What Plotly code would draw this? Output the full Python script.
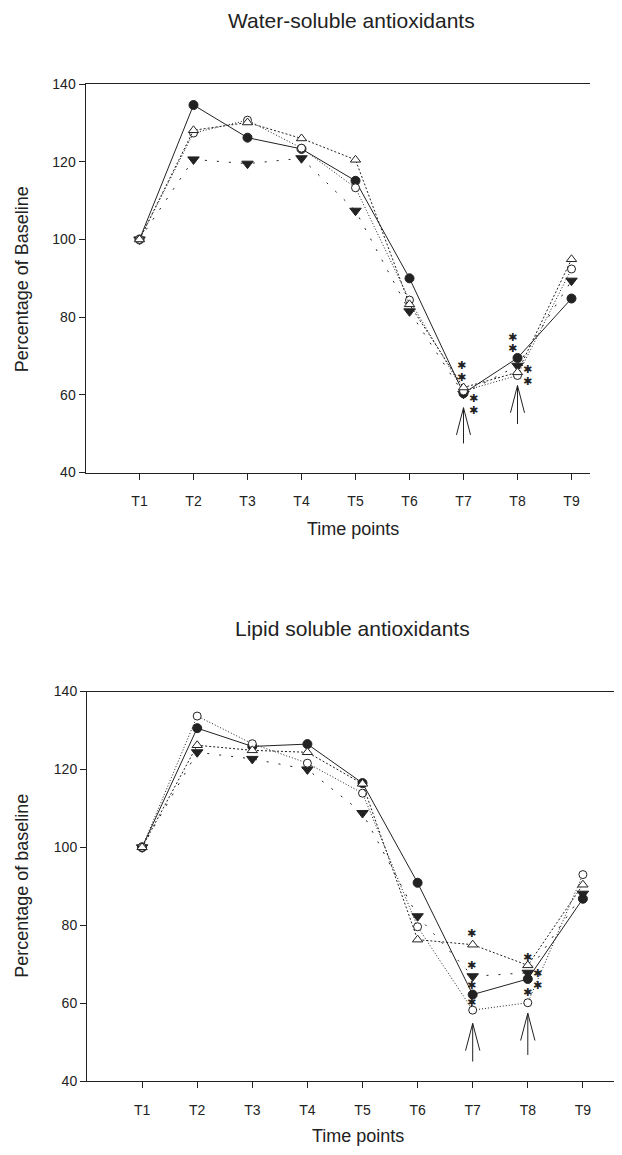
import plotly.graph_objects as go

# ---------------- data ----------------
time_labels = ["T1", "T2", "T3", "T4", "T5", "T6", "T7", "T8", "T9"]
x_pos = list(range(1, len(time_labels) + 1))

# Water-soluble antioxidants (top panel)
ws_filled_circle = [100, 134.6, 126.2, 123.3, 115.1, 90.0, 60.4, 69.5, 84.8]
ws_open_circle   = [100, 127.4, 130.7, 123.5, 113.3, 84.4, 61.0, 65.0, 92.4]
ws_open_triangle = [100, 128.1, 130.1, 126.0, 120.5, 83.3, 61.9, 65.8, 94.9]
ws_filled_tri_dn = [100, 120.6, 119.5, 120.9, 107.4, 81.5, 60.3, 67.5, 89.4]

# Lipid soluble antioxidants (bottom panel)
ls_filled_circle = [100, 130.6, 125.9, 126.5, 116.5, 90.9, 62.2, 66.2, 86.8]
ls_open_circle   = [100, 133.7, 126.6, 121.6, 113.9, 79.6, 58.2, 60.1, 93.0]
ls_open_triangle = [100, 126.2, 124.9, 124.4, 116.3, 76.3, 75.0, 69.7, 90.4]
ls_filled_tri_dn = [100, 124.4, 122.7, 120.0, 108.8, 82.3, 66.9, 67.8, 88.1]

# significance asterisks (x position, value)
ws_sig_x = [6.97, 6.97, 7.18, 7.18, 7.90, 7.90, 8.19, 8.19]
ws_sig_y = [67.5, 64.5, 59.1, 56.1, 74.8, 71.9, 66.5, 63.4]
ls_sig_x = [6.98, 6.98, 6.98, 6.98, 7.99, 8.17, 8.17, 7.99]
ls_sig_y = [77.9, 69.7, 64.6, 60.1, 71.6, 67.6, 64.6, 62.8]

# arrows (time point, tip value, tail value)
ws_arrow_t = [7, 8]
ws_arrow_tip = [56.7, 62.4]
ws_arrow_tail = [47.5, 52.5]
ls_arrow_t = [7, 8]
ls_arrow_tip = [54.8, 57.4]
ls_arrow_tail = [45.0, 46.7]

# ---------------- figure ----------------
W, H = 622, 1155
OX, OY = 8, 8          # default page margin around the plot div
INK = "#222222"
FONT = "Liberation Sans, Arial, sans-serif"

def fx(px):  # screen x pixel -> paper fraction
    return (px - OX) / W

def fy(py):  # screen y pixel -> paper fraction
    return 1 - (py - OY) / H

fig = go.Figure()

series_style = [
    # (symbol, fill, size, dash)
    ("triangle-down", INK, 10, "2px,10px"),
    ("circle", INK, 9, "solid"),
    ("circle", "white", 8, "1px,2px"),
    ("triangle-up", "white", 9, "2px,2px"),
]

def add_panel(vals, xa, ya):
    for (sym, fill, size, dash), v in zip(series_style, vals):
        fig.add_trace(go.Scatter(
            x=x_pos, y=v, xaxis=xa, yaxis=ya, mode="lines+markers",
            line=dict(color=INK, width=1, dash=dash),
            marker=dict(symbol=sym, size=size, color=fill,
                        line=dict(color=INK, width=1)),
            showlegend=False, hoverinfo="skip"))

add_panel([ws_filled_tri_dn, ws_filled_circle, ws_open_circle, ws_open_triangle], "x", "y")
add_panel([ls_filled_tri_dn, ls_filled_circle, ls_open_circle, ls_open_triangle], "x2", "y2")

# panel geometry (screen pixels)
top_left, top_right, top_top, top_bot, top_step = 85.5, 590, 77, 471, 54.0
bot_left, bot_right, bot_top, bot_bot, bot_step = 87, 630, 693, 1088, 55.1

common_x = dict(tickmode="array", tickvals=x_pos, ticktext=time_labels,
                showline=True, linecolor=INK, linewidth=1, mirror=True,
                ticks="outside", ticklen=6, tickwidth=1, tickcolor=INK,
                ticklabelstandoff=10,
                showgrid=False, zeroline=False,
                tickfont=dict(family=FONT, size=14, color=INK))
common_y = dict(range=[40, 140], tickvals=[40, 60, 80, 100, 120, 140],
                showline=True, linecolor=INK, linewidth=1,
                ticks="outside", ticklen=6, tickwidth=1, tickcolor=INK,
                showgrid=False, zeroline=False,
                tickfont=dict(family=FONT, size=14, color=INK))

fig.update_layout(
    width=W, height=H, margin=dict(l=0, r=0, t=0, b=0),
    paper_bgcolor="white", plot_bgcolor="white",
    xaxis=dict(domain=[fx(top_left), fx(top_right)],
               range=[0, (top_right - top_left) / top_step], anchor="y", **common_x),
    yaxis=dict(domain=[fy(top_bot), fy(top_top)], anchor="x", **common_y),
    xaxis2=dict(domain=[fx(bot_left), min(1.0, fx(bot_right))],
                range=[0, (min(W + OX, bot_right) - bot_left) / bot_step], anchor="y2", **common_x),
    yaxis2=dict(domain=[fy(bot_bot), fy(bot_top)], anchor="x2", **common_y),
)

ann = []
def txt(x, y, s, size, angle=0):
    ann.append(dict(x=fx(x), y=fy(y), xref="paper", yref="paper", text=s,
                    showarrow=False, textangle=angle,
                    font=dict(family=FONT, size=size, color=INK),
                    xanchor="center", yanchor="middle"))

txt(351, 13, "Water-soluble antioxidants", 21)
txt(353, 528, "Time points", 18)
txt(22, 275, "Percentage of Baseline", 18, -90)
txt(352, 629, "Lipid soluble antioxidants", 21)
txt(358, 1144, "Time points", 18)
txt(22, 890, "Percentage of baseline", 18, -90)

for sx, sy, xr, yr in [(ws_sig_x, ws_sig_y, "x", "y"), (ls_sig_x, ls_sig_y, "x2", "y2")]:
    for a, b in zip(sx, sy):
        ann.append(dict(x=a, y=b, xref=xr, yref=yr, text="✱", showarrow=False,
                        font=dict(family="DejaVu Sans", size=11, color=INK)))

fig.update_layout(annotations=ann)

shapes = []
LEG = 7.0      # leg length in value units
HALF = 0.13    # half spread in x units
for ts, tips, tails, xr, yr in [(ws_arrow_t, ws_arrow_tip, ws_arrow_tail, "x", "y"),
                                (ls_arrow_t, ls_arrow_tip, ls_arrow_tail, "x2", "y2")]:
    for t, tip, tail in zip(ts, tips, tails):
        ln = dict(color=INK, width=1)
        shapes.append(dict(type="line", xref=xr, yref=yr, x0=t, x1=t, y0=tip, y1=tail, line=ln))
        shapes.append(dict(type="line", xref=xr, yref=yr, x0=t, x1=t - HALF, y0=tip, y1=tip - LEG, line=ln))
        shapes.append(dict(type="line", xref=xr, yref=yr, x0=t, x1=t + HALF, y0=tip, y1=tip - LEG, line=ln))
fig.update_layout(shapes=shapes)

fig.write_html("out.html")
